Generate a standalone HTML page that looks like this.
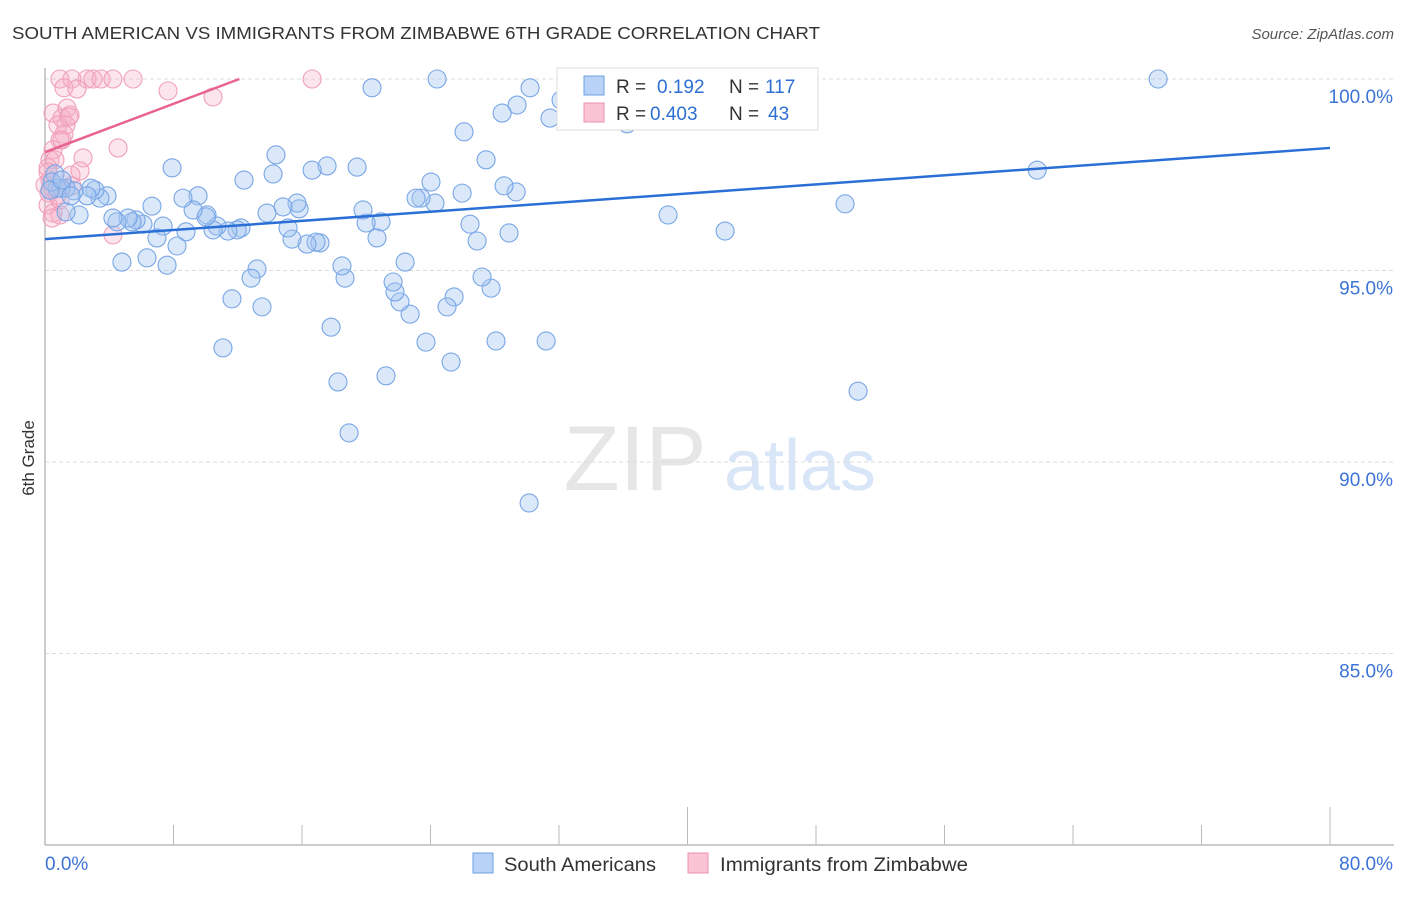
<!DOCTYPE html>
<html><head><meta charset="utf-8"><style>
body{margin:0;background:#fff;font-family:"Liberation Sans",sans-serif;}
svg text{font-family:"Liberation Sans",sans-serif;}
</style></head><body>
<svg id="c" width="1406" height="892">
<text x="12" y="39" font-size="17.5" fill="#333" textLength="808" lengthAdjust="spacingAndGlyphs">SOUTH AMERICAN VS IMMIGRANTS FROM ZIMBABWE 6TH GRADE CORRELATION CHART</text>
<text x="1394" y="39" font-size="15" fill="#555" font-style="italic" text-anchor="end">Source: ZipAtlas.com</text>
<text x="34" y="458" font-size="17" fill="#333" transform="rotate(-90 34 458)" text-anchor="middle">6th Grade</text>
<g><text x="635" y="490" font-size="92" fill="#e6e6e6" text-anchor="middle" font-family="Liberation Serif">ZIP</text><text x="800" y="490" font-size="72" fill="#d8e6f8" text-anchor="middle">atlas</text></g>
<g id="grid"></g><g id="axes"></g><g id="pts"></g><g id="lines"></g>
<g>
<rect x="557" y="68" width="261" height="62" fill="#fff" stroke="#ddd"/>
<rect x="584" y="76" width="20" height="19" fill="#b8d3f7" stroke="#6d9ee0"/>
<rect x="584" y="103" width="20" height="19" fill="#fbc4d4" stroke="#ec90ad"/>
<text x="616" y="93" font-size="19" fill="#333">R = </text><text x="657" y="93" font-size="19" fill="#2e6fd4">0.192</text>
<text x="729" y="93" font-size="19" fill="#333">N = </text><text x="765" y="93" font-size="19" fill="#2e6fd4">117</text>
<text x="616" y="120" font-size="19" fill="#333">R = </text><text x="650" y="120" font-size="19" fill="#2e6fd4">0.403</text>
<text x="729" y="120" font-size="19" fill="#333">N = </text><text x="768" y="120" font-size="19" fill="#2e6fd4">43</text>
</g>
<g>
<rect x="473" y="853" width="20" height="20" fill="#b8d3f7" stroke="#6d9ee0"/><text x="504" y="871" font-size="19" fill="#333" textLength="152" lengthAdjust="spacingAndGlyphs">South Americans</text>
<rect x="688" y="853" width="20" height="20" fill="#fbc4d4" stroke="#ec90ad"/><text x="720" y="871" font-size="19" fill="#333" textLength="248" lengthAdjust="spacingAndGlyphs">Immigrants from Zimbabwe</text>
</g>
</svg>
<script>
const yTicks=[100,95,90,85];
const yTickLabels=["100.0%","95.0%","90.0%","85.0%"];
const xTicks=[0,8,16,24,32,40,48,56,64,72,80];
const xEndLabels=["0.0%","80.0%"];
const blueX=[69.3,61.77,49.81,50.62,42.34,38.79,36.24,32.5,32.13,31.44,30.2,29.39,28.46,30.14,31.2,29.33,28.58,28.89,27.77,27.21,28.08,26.9,26.46,27.46,26.09,25.97,24.41,25.47,25.28,25.03,24.28,24.03,23.72,23.41,23.1,22.73,22.42,22.1,21.79,21.67,21.23,20.92,20.67,19.99,19.8,20.36,19.43,18.93,18.68,18.49,18.24,17.81,17.56,17.12,16.87,16.63,16.31,15.82,15.69,15.38,15.13,14.82,14.38,14.2,13.82,13.51,13.2,12.83,12.39,12.2,11.96,11.64,11.39,11.08,10.71,10.46,10.09,10.02,9.53,9.22,8.78,8.59,8.22,7.91,7.6,7.35,6.97,6.66,6.35,6.1,5.67,5.42,5.17,4.79,4.48,4.23,3.86,3.42,3.11,2.86,2.62,2.12,1.81,1.31,1.0,0.75,0.62,0.44,0.31,1.06,1.31,1.62];
const blueY=[100,97.62,96.74,91.85,96.03,96.45,98.83,100,99.45,98.98,99.77,99.32,99.11,88.93,93.16,97.05,97.21,95.98,94.54,94.83,93.16,95.77,96.21,97.89,98.62,97.02,100,94.31,92.61,94.05,96.76,97.31,93.13,96.89,96.89,93.86,95.22,94.18,94.44,94.7,92.25,96.27,95.85,96.24,96.58,99.77,97.7,90.76,94.8,95.12,92.09,93.52,97.73,95.72,95.74,97.62,95.69,96.61,96.76,95.82,96.11,96.66,98.02,97.52,96.5,94.05,95.04,94.8,97.36,96.11,96.06,94.26,96.03,92.98,96.16,96.06,96.45,96.4,96.95,96.58,96.01,96.89,95.64,97.68,95.14,96.16,95.85,96.68,95.33,96.21,96.32,96.27,96.37,95.22,96.27,96.37,96.95,96.89,97.1,97.15,96.95,96.45,97.08,97.15,97.15,97.15,97.52,97.31,97.1,97.36,96.53,96.95];
const pinkX=[0.93,1.68,2.62,2.99,3.49,4.23,5.48,16.63,1.18,1.99,7.66,10.46,0.5,1.06,1.37,1.56,1.31,1.18,0.93,4.55,0.5,0.31,0.19,0.62,2.37,2.18,1.62,0.31,0.44,0.75,0.19,0.5,0.93,4.23,0.44,0.93,0,0.19,1.68,1.06,0.81,1.49,0.25];
const pinkY=[100,100,100,100,100,100,100,100,99.77,99.74,99.69,99.53,99.11,98.98,99.24,99.06,98.8,98.56,98.41,98.2,98.15,97.89,97.68,97.89,97.94,97.6,97.49,97.36,97.15,96.97,96.71,96.5,96.45,95.93,96.37,96.84,97.23,97.57,97.21,98.41,98.8,99.01,97.02];
const blueTrend=[[0,95.82],[80,98.2]];
const pinkTrend=[[0,98.09],[12.1,100]];
const NS="http://www.w3.org/2000/svg";
const X0=45,X1=1330,Y100=79,PXPER=38.3;
const xs=v=>X0+v*(X1-X0)/80;
const ys=v=>Y100+(100-v)*PXPER;
function mk(tag,attrs,parent){const e=document.createElementNS(NS,tag);for(const k in attrs)e.setAttribute(k,attrs[k]);document.getElementById(parent).appendChild(e);return e;}
yTicks.forEach((t,i)=>{
const g=mk('line',{x1:X0,x2:1394,y1:ys(t),y2:ys(t),stroke:'#dcdcdc','stroke-dasharray':'4,3'},'grid');


const l=mk('text',{x:1393,y:ys(t)+24,'font-size':19,fill:'#3b73d6','text-anchor':'end'},'grid');
l.textContent=yTickLabels[i];


});
const ax=mk('line',{x1:X0,x2:X0,y1:68,y2:845,stroke:'#bbb','stroke-width':1.5},'axes');


const bx=mk('line',{x1:X0,x2:1394,y1:845,y2:845,stroke:'#bbb','stroke-width':1.5},'axes');


xTicks.forEach(t=>{if(t===0)return;const major=(t===40||t===80);
const tk=mk('line',{x1:xs(t),x2:xs(t),y1:major?807:825,y2:845,stroke:'#bbb'},'axes');

});
const xl0=mk('text',{x:45,y:870,'font-size':19,fill:'#3b73d6'},'axes');xl0.textContent=xEndLabels[0];


const xl1=mk('text',{x:1393,y:870,'font-size':19,fill:'#3b73d6','text-anchor':'end'},'axes');xl1.textContent=xEndLabels[1];


pinkX.forEach((v,i)=>{const c=mk('circle',{cx:xs(v),cy:ys(pinkY[i]),r:9,fill:'rgba(247,175,198,0.32)',stroke:'#f0a0b8','stroke-width':1.1},'pts');

});
blueX.forEach((v,i)=>{const c=mk('circle',{cx:xs(v),cy:ys(blueY[i]),r:9,fill:'rgba(165,198,240,0.4)',stroke:'#78a6e6','stroke-width':1.1},'pts');

});
const bl=mk('line',{x1:xs(blueTrend[0][0]),y1:ys(blueTrend[0][1]),x2:xs(blueTrend[1][0]),y2:ys(blueTrend[1][1]),stroke:'#2a6fd6','stroke-width':2.5},'lines');


const pl=mk('line',{x1:xs(pinkTrend[0][0]),y1:ys(pinkTrend[0][1]),x2:xs(pinkTrend[1][0]),y2:ys(pinkTrend[1][1]),stroke:'#e8638d','stroke-width':2.5},'lines');


</script>
</body></html>
